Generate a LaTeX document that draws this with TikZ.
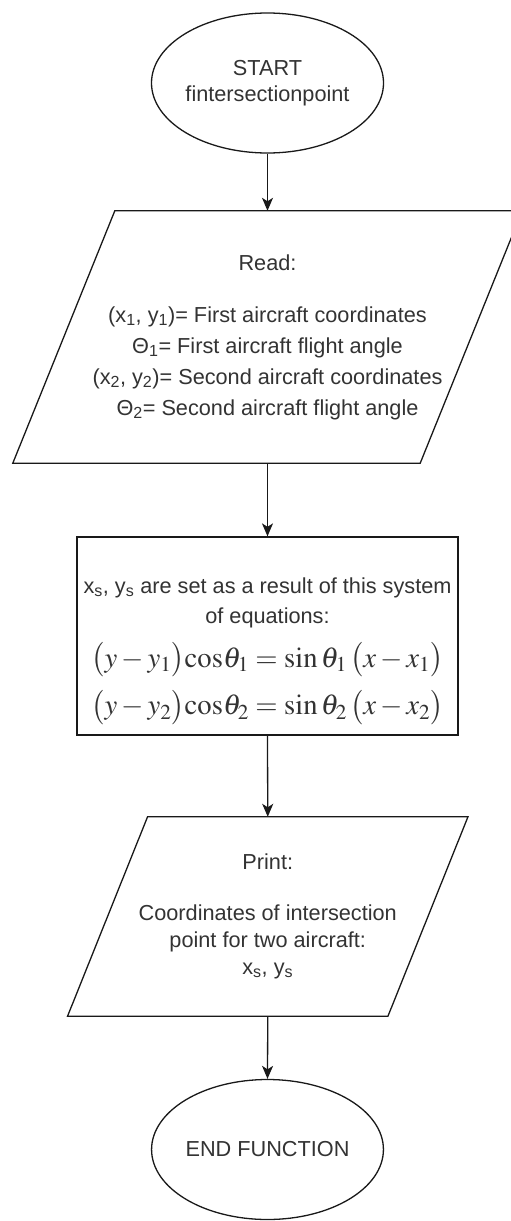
\documentclass[tikz,border=0pt]{standalone}
\usepackage{mathptmx}
\usepackage{fontspec}
\setmainfont{Liberation Sans}
\usepackage{graphicx}
\usetikzlibrary{shapes.geometric,arrows.meta}
\newcommand\fsz{\fontsize{21.7}{26}\selectfont}
\tikzset{
  outline/.style={line width=1.3pt, draw=black!90},
  term/.style={ellipse, outline, minimum width=218pt, minimum height=140pt,
    inner sep=0pt, align=center, font=\fsz, text=black!80},
  iobox/.style={rectangle, draw=none, inner sep=0pt, align=center, font=\fsz, text=black!80},
  procbox/.style={rectangle, outline, inner sep=0pt, align=center, font=\fsz, text=black!80},
  flow/.style={line width=1.3pt, draw=black!90, -{Stealth[length=13pt,width=11pt,inset=3.5pt]}}
}
\begin{document}
\begin{tikzpicture}[x=1pt,y=1pt]
\useasboundingbox (0,0) rectangle (511,-1221);
\fill[white] (0,0) rectangle (511,-1221);

\node[term] (start) at (267.5,-83) {START\\fintersectionpoint};

\node[iobox, minimum width=407pt, minimum height=252pt] (read) at (267.5,-337)
 {Read:\\[26pt]
  (x\textsubscript{1}, y\textsubscript{1})= First aircraft coordinates\\[5pt]
  Θ\textsubscript{1}= First aircraft flight angle\\[5pt]
  (x\textsubscript{2}, y\textsubscript{2})= Second aircraft coordinates\\[5pt]
  Θ\textsubscript{2}= Second aircraft flight angle};
\draw[outline] ([xshift=51pt]read.north west) -- ([xshift=51pt]read.north east)
  -- ([xshift=-51pt]read.south east) -- ([xshift=-51pt]read.south west) -- cycle;

\node[procbox, minimum width=381pt, minimum height=198pt] (calc) at (267.5,-636)
 {\rule{0pt}{46pt}x\textsubscript{s}, y\textsubscript{s} are set as a result of this system\\[4pt]
  of equations:\\[14pt]
  \resizebox{352pt}{!}{\fontsize{28}{34}\selectfont$\bigl(y-y_1\bigr)\mathrm{cos}\theta_1=\sin\theta_1\,\bigl(x-x_1\bigr)$}\\[12pt]
  \resizebox{352pt}{!}{\fontsize{28}{34}\selectfont$\bigl(y-y_2\bigr)\mathrm{cos}\theta_2=\sin\theta_2\,\bigl(x-x_2\bigr)$}};

\node[iobox, minimum width=320pt, minimum height=199pt] (print) at (267.75,-916.5)
 {Print:\\[25pt]
  Coordinates of intersection\\[1pt]
  point for two aircraft:\\[1pt]
  x\textsubscript{s}, y\textsubscript{s}};
\draw[outline] ([xshift=40pt]print.north west) -- ([xshift=40pt]print.north east)
  -- ([xshift=-40pt]print.south east) -- ([xshift=-40pt]print.south west) -- cycle;

\node[term] (end) at (267.5,-1149.5) {END FUNCTION};

\draw[flow] (start.south) -- (read.north);
\draw[flow] (read.south) -- (calc.north);
\draw[flow] (calc.south) -- (print.north);
\draw[flow] (print.south) -- (end.north);
\end{tikzpicture}
\end{document}
